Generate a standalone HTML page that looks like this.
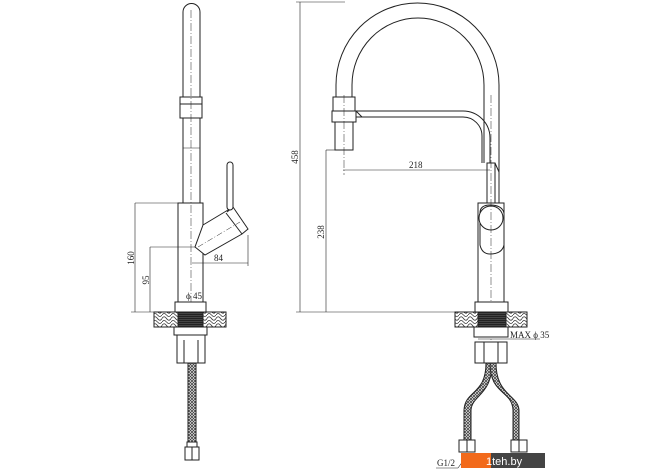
<!DOCTYPE html>
<html><head><meta charset="utf-8"><style>
html,body{margin:0;padding:0;background:#fff}
svg{display:block}
text{font-family:"Liberation Serif",serif;font-size:9px;fill:#222}
</style></head><body>
<svg width="670" height="471" viewBox="0 0 670 471" xmlns="http://www.w3.org/2000/svg">
<defs>
<pattern id="hatch" width="9" height="7" patternUnits="userSpaceOnUse">
<rect width="9" height="7" fill="#fff"/>
<path d="M0 3.5 Q2 0 4.5 3.5 T9 3.5 M0 7 Q2 4 4.5 7 M4.5 0 Q7 3 9 0" stroke="#333" stroke-width="0.8" fill="none"/>
</pattern>
<pattern id="braid" width="3" height="3" patternUnits="userSpaceOnUse">
<rect width="3" height="3" fill="#fff"/>
<path d="M0 0L3 3M3 0L0 3" stroke="#444" stroke-width="0.8"/>
</pattern>
<pattern id="thread" width="4" height="2" patternUnits="userSpaceOnUse">
<rect width="4" height="2" fill="#222"/><rect y="1.4" width="4" height="0.5" fill="#666"/>
</pattern>
</defs>
<g fill="none" stroke="#222" stroke-width="1">
<!-- LEFT FAUCET -->
<path d="M183 97 V12 A8.5 8.5 0 0 1 200 12 V97"/>
<rect x="180" y="97" width="22" height="21"/>
<line x1="180" y1="104" x2="202" y2="104"/>
<line x1="183" y1="118" x2="183" y2="203"/>
<line x1="200" y1="118" x2="200" y2="203"/>
<line x1="183" y1="148" x2="200" y2="148" stroke-width="0.6"/>
<rect x="178" y="203" width="25" height="99"/>
<line x1="191" y1="10" x2="191" y2="360" stroke-dasharray="8 2 1 2" stroke-width="0.5"/>
<path d="M203 225 L233 207 L248 229 L242 234 L205 255 L195 247 Z" fill="#fff"/>
<line x1="233" y1="207" x2="227" y2="212"/>
<line x1="226" y1="213" x2="242" y2="234"/>
<rect x="227" y="162" width="6" height="48" rx="3" fill="#fff"/>
<line x1="198" y1="247" x2="240" y2="222" stroke-dasharray="6 2 1 2" stroke-width="0.5"/>
<!-- dims left -->
<line x1="135" y1="203" x2="178" y2="203" stroke-width="0.6"/>
<line x1="135" y1="203" x2="135" y2="312" stroke-width="0.6"/>
<line x1="150" y1="247" x2="195" y2="247" stroke-width="0.6"/>
<line x1="150" y1="247" x2="150" y2="312" stroke-width="0.6"/>
<line x1="131" y1="312" x2="175" y2="312" stroke-width="0.6"/>
<line x1="192" y1="263" x2="248" y2="263" stroke-width="0.6"/>
<line x1="248" y1="235" x2="248" y2="266" stroke-width="0.6"/>
<line x1="176" y1="304" x2="206" y2="304" stroke-width="0.6"/>
<rect x="175" y="302" width="31" height="10" fill="#fff"/>
<rect x="154" y="312" width="72" height="15" fill="url(#hatch)"/>
<rect x="178" y="312" width="25" height="15" fill="url(#thread)"/>
<rect x="174" y="327" width="33" height="8" fill="#fff"/>
<rect x="177" y="335" width="28" height="28" fill="#fff"/>
<line x1="184" y1="340" x2="184" y2="363"/><line x1="198" y1="340" x2="198" y2="363"/>
<rect x="188" y="363" width="8" height="84" fill="url(#braid)"/>
<rect x="187" y="442" width="10" height="5" fill="#fff"/>
<rect x="185" y="447" width="14" height="13" fill="#fff"/>
<line x1="192" y1="447" x2="192" y2="460"/>
<!-- RIGHT FAUCET -->
<path d="M336 97 V85 A81.5 82 0 0 1 499 85 V172"/>
<path d="M352 97 V85 A66 67 0 0 1 484 85 V163"/>
<rect x="333" y="97" width="22" height="14" fill="#fff"/>
<rect x="332" y="111" width="24" height="11" fill="#fff"/>
<rect x="335" y="122" width="18" height="28" fill="#fff"/>
<path d="M356 111 H463 A27 27 0 0 1 490 138 V163"/>
<path d="M356 117 H463 A19 19 0 0 1 482 136 V163"/>
<line x1="356" y1="111" x2="362" y2="117"/>
<rect x="487" y="163" width="8" height="40" fill="#fff"/>
<path d="M495 163 L499 172 V203"/>
<rect x="478" y="203" width="26" height="99" fill="#fff"/>
<path d="M480 213 Q480 205 490 205 Q502 205 504 213 V245 Q502 254 490 254 Q482 254 480 245 Z" fill="#fff"/>
<circle cx="491" cy="218" r="12" fill="#fff"/>
<line x1="491" y1="95" x2="491" y2="360" stroke-dasharray="8 2 1 2" stroke-width="0.5"/>
<line x1="344" y1="95" x2="344" y2="175" stroke-dasharray="8 2 1 2" stroke-width="0.5"/>
<rect x="475" y="302" width="33" height="10" fill="#fff"/>
<rect x="455" y="312" width="72" height="15" fill="url(#hatch)"/>
<rect x="478" y="312" width="28" height="15" fill="url(#thread)"/>
<rect x="474" y="327" width="34" height="10" fill="#fff"/>
<rect x="475" y="342" width="32" height="21" fill="#fff"/>
<line x1="484" y1="342" x2="484" y2="363"/><line x1="498" y1="342" x2="498" y2="363"/>
<line x1="478" y1="339" x2="540" y2="339" stroke-width="0.6"/>
<!-- hoses -->
<path d="M486 363 C486 395 465 390 464 410 V440 H471 V410 C472 395 492 395 492 363 Z" fill="url(#braid)"/>
<path d="M490 363 C490 395 512 390 513 410 V440 H519 V410 C518 395 496 395 496 363 Z" fill="url(#braid)"/>
<rect x="459" y="440" width="16" height="12" fill="#fff"/>
<rect x="511" y="440" width="16" height="12" fill="#fff"/>
<line x1="467" y1="440" x2="467" y2="452"/><line x1="519" y1="440" x2="519" y2="452"/>
<line x1="436" y1="468" x2="458" y2="468" stroke-width="0.6"/>
<line x1="458" y1="468" x2="468" y2="454" stroke-width="0.6"/>
<!-- dims right -->
<line x1="296" y1="2" x2="345" y2="2" stroke-width="0.6"/>
<line x1="300" y1="2" x2="300" y2="312" stroke-width="0.6"/>
<line x1="296" y1="312" x2="455" y2="312" stroke-width="0.6"/>
<line x1="326" y1="150" x2="335" y2="150" stroke-width="0.6"/>
<line x1="326" y1="150" x2="326" y2="312" stroke-width="0.6"/>
<line x1="343" y1="170" x2="490" y2="170" stroke-width="0.6"/>
</g>
<text x="186" y="299">ϕ 45</text>
<text x="214" y="261">84</text>
<text transform="translate(134,258) rotate(-90)" text-anchor="middle">160</text>
<text transform="translate(149,280) rotate(-90)" text-anchor="middle">95</text>
<text transform="translate(298,157) rotate(-90)" text-anchor="middle">458</text>
<text transform="translate(324,232) rotate(-90)" text-anchor="middle">238</text>
<text x="409" y="168">218</text>
<text x="510" y="338">MAX ϕ 35</text>
<text x="437" y="466">G1/2</text>
<rect x="461" y="453" width="30" height="15" fill="#f26a1b"/>
<rect x="491" y="453" width="54" height="15" fill="#444"/>
<text x="486" y="465" style="font-family:'Liberation Sans',sans-serif;font-size:11px;fill:#fff">1teh.by</text>
</svg>
</body></html>
